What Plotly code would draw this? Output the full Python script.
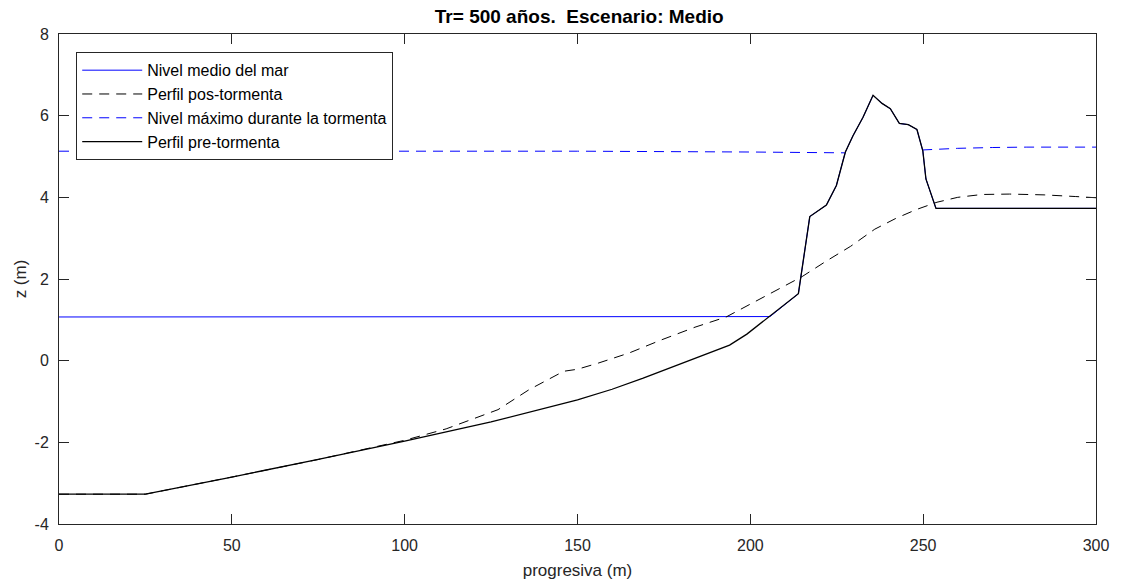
import plotly.graph_objects as go

# Pre-storm profile
x_pre = [0, 25, 50, 75, 100, 115, 125, 150, 160, 169, 180, 188, 194, 199, 202, 205.7,
         213.9, 217.2, 222, 224.9, 226.8, 227.5, 229.7, 232.6, 235.5, 238.1, 240.5,
         243.1, 245.7, 248.2, 249.9, 250.8, 253.7, 300]
z_pre = [-3.27, -3.27, -2.85, -2.42, -1.97, -1.69, -1.5, -0.96, -0.7, -0.43, -0.08, 0.18,
         0.38, 0.65, 0.85, 1.08, 1.64, 3.53, 3.81, 4.29, 4.9, 5.11, 5.51, 5.96, 6.5, 6.3,
         6.17, 5.81, 5.78, 5.66, 5.14, 4.45, 3.73, 3.73]

# Post-storm profile
x_post = [0, 25, 50, 75, 100, 112, 127, 136, 146, 150, 156, 165, 174, 184, 193, 200, 207,
          215, 222, 229, 236, 242, 248, 254, 260, 267, 275, 285, 294, 300]
z_post = [-3.27, -3.27, -2.85, -2.42, -1.95, -1.67, -1.2, -0.71, -0.26, -0.21, -0.06, 0.19,
          0.5, 0.82, 1.07, 1.38, 1.7, 2.06, 2.44, 2.8, 3.22, 3.48, 3.7, 3.88, 4.0, 4.07,
          4.08, 4.06, 4.02, 3.99]

# Maximum water level during storm (gap over the dune)
x_max = [0, 50, 100, 150, 200, 227.3, None, 249.7, 260, 270, 280, 300]
z_max = [5.13, 5.13, 5.13, 5.13, 5.11, 5.09, None, 5.16, 5.2, 5.22, 5.23, 5.23]

# Mean sea level
nmm = 1.07
x_nmm = [0] + [x for x, z in zip(x_pre, z_pre) if z >= nmm]
z_nmm = [nmm] + [max(z, nmm) for x, z in zip(x_pre, z_pre) if z >= nmm]

# Ticks
x_ticks = [0, 50, 100, 150, 200, 250, 300]
y_ticks = [-4, -2, 0, 2, 4, 6, 8]
y_ticktext = ["-4", "-2", "0", "2", "4", "6", "8"]

FONT = "Arial, Liberation Sans, Helvetica, sans-serif"
AX = "#262626"

fig = go.Figure()
fig.add_trace(go.Scatter(x=x_nmm, y=z_nmm, mode="lines", name="Nivel medio del mar",
                         line=dict(color="#0000ff", width=1)))
fig.add_trace(go.Scatter(x=x_post, y=z_post, mode="lines", name="Perfil pos-tormenta",
                         line=dict(color="#000000", width=1, dash="10px,7px")))
fig.add_trace(go.Scatter(x=x_max, y=z_max, mode="lines", name="Nivel máximo durante la tormenta",
                         connectgaps=False,
                         line=dict(color="#0000ff", width=1, dash="10px,7px")))
fig.add_trace(go.Scatter(x=x_pre, y=z_pre, mode="lines", name="Perfil pre-tormenta",
                         line=dict(color="#000000", width=1.3)))

axis_common = dict(showline=True, linecolor=AX, linewidth=1, mirror="ticks",
                   ticks="inside", ticklen=10, tickcolor=AX, tickwidth=1,
                   showgrid=False, zeroline=False,
                   tickfont=dict(family=FONT, size=16, color=AX))

fig.update_layout(
    width=1121, height=588,
    margin=dict(l=59, r=20, t=34, b=64),
    paper_bgcolor="white", plot_bgcolor="white",
    font=dict(family=FONT, size=16, color=AX),
    title=dict(text="<b>Tr= 500 años.\u00a0 Escenario: Medio</b>", x=0.5167, xanchor="center",
               y=0.972, yanchor="middle", font=dict(family=FONT, size=19, color="#000000")),
    xaxis=dict(range=[0, 300], tickvals=x_ticks,
               title=dict(text="progresiva (m)", font=dict(family=FONT, size=17, color=AX), standoff=10),
               ticklabelstandoff=7,
               **axis_common),
    yaxis=dict(range=[-4, 8], tickvals=y_ticks, ticktext=y_ticktext,
               title=dict(text="z (m)", font=dict(family=FONT, size=17, color=AX), standoff=3),
               ticklabelstandoff=6,
               **axis_common),
    legend=dict(x=0.0166, y=0.9627, xanchor="left", yanchor="top",
                bgcolor="white", bordercolor=AX, borderwidth=1,
                font=dict(family=FONT, size=16, color="#000000"),
                tracegroupgap=0, itemwidth=60),
    showlegend=True,
)

fig.write_html("out.html")
